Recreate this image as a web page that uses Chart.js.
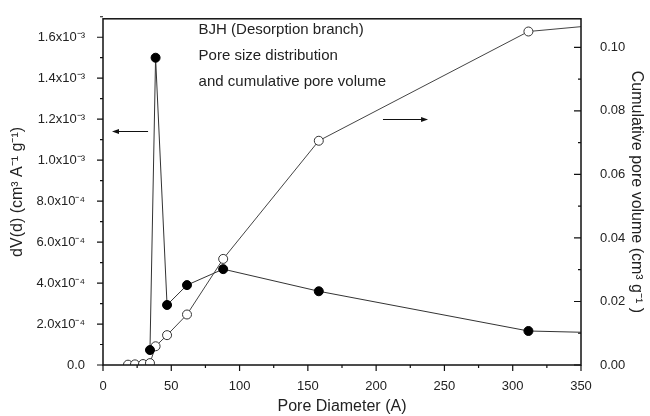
<!DOCTYPE html>
<html>
<head>
<meta charset="utf-8">
<script src="https://cdn.jsdelivr.net/npm/chart.js@4/dist/chart.umd.min.js"></script>
<style>
  html, body { margin: 0; padding: 0; background: #fff; }
  #wrap { width: 650px; height: 416px; }
</style>
</head>
<body>
<div id="wrap"><canvas id="myChart"></canvas></div>
<script>
// pore diameter (A)
const diameters = [18.3, 23.4, 29.3, 34.4, 38.5, 46.9, 61.5, 88, 158, 311.5, 400];
// dV(d), cm3 A-1 g-1 (filled circles, left axis)
const poreDist = [null, null, null, 7.3e-5, 1.5e-3, 2.93e-4, 3.9e-4, 4.68e-4, 3.6e-4, 1.66e-4, 1.52e-4];
// cumulative pore volume, cm3 g-1 (open circles, right axis)
const cumVolume = [0.0001, 0.0002, 0.0003, 0.0006, 0.0059, 0.0094, 0.0159, 0.0334, 0.0706, 0.105, 0.1085];

const xTickLabels = ["0", "50", "100", "150", "200", "250", "300", "350"];
const leftTickLabels = ["0.0", "2.0x10\u207B\u2074", "4.0x10\u207B\u2074", "6.0x10\u207B\u2074", "8.0x10\u207B\u2074",
  "1.0x10\u207B\u00B3", "1.2x10\u207B\u00B3", "1.4x10\u207B\u00B3", "1.6x10\u207B\u00B3"];
const rightTickLabels = ["0.00", "0.02", "0.04", "0.06", "0.08", "0.10"];

const noteLines = ["BJH (Desorption branch)", "Pore size distribution", "and cumulative pore volume"];
const noteAt = [70, 1.638e-3];            // x in A, y on left axis
const leftArrow = [[33, 6.6], 1.14e-3];    // x from/to, y on left axis
const rightArrow = [[205, 238], 0.0775];    // x from/to, y on right axis

const INK = "#222";
const FONT = "'Liberation Sans', Arial, sans-serif";

function pick(labels, step) {
  return function (val) {
    const k = val / step;
    const i = Math.round(k);
    if (Math.abs(k - i) > 1e-6 || i < 0 || i >= labels.length) return "";
    return labels[i];
  };
}

// frame, minor/major ticks, arrows and the text note
const decor = {
  id: "decor",
  afterDraw(chart) {
    const ctx = chart.ctx;
    const a = chart.chartArea;
    const sx = chart.scales.x, sy = chart.scales.y, sy2 = chart.scales.y2;
    ctx.save();
    ctx.strokeStyle = "#111";
    ctx.lineWidth = 1.5;
    ctx.strokeRect(a.left, a.top, a.right - a.left, a.bottom - a.top);

    ctx.lineWidth = 1.2;
    ctx.beginPath();
    for (let v = 0; v <= 350.001; v += 25) {
      const px = sx.getPixelForValue(v);
      const len = Math.round(v / 25) % 2 === 0 ? 6 : 3;
      ctx.moveTo(px, a.bottom); ctx.lineTo(px, a.bottom + len);
    }
    for (let k = 0; k <= 17; k++) {
      const py = sy.getPixelForValue(k * 1e-4);
      const len = k % 2 === 0 ? 6 : 3;
      ctx.moveTo(a.left, py); ctx.lineTo(a.left - len, py);
    }
    for (let k = 0; k <= 10; k++) {
      const py = sy2.getPixelForValue(k * 0.01);
      const len = k % 2 === 0 ? 7 : 3;
      ctx.moveTo(a.right, py); ctx.lineTo(a.right - len, py);
    }
    ctx.stroke();

    // arrows
    ctx.strokeStyle = "#111";
    ctx.fillStyle = "#111";
    ctx.lineWidth = 1;
    [[leftArrow, sy], [rightArrow, sy2]].forEach(function (pair) {
      const arr = pair[0], sc = pair[1];
      const x0 = sx.getPixelForValue(arr[0][0]);
      const x1 = sx.getPixelForValue(arr[0][1]);
      const y = Math.round(sc.getPixelForValue(arr[1])) + 0.5;
      const dir = Math.sign(x1 - x0);
      ctx.beginPath();
      ctx.moveTo(x0, y); ctx.lineTo(x1 - dir * 5, y);
      ctx.stroke();
      ctx.beginPath();
      ctx.moveTo(x1, y); ctx.lineTo(x1 - dir * 7, y - 2.5); ctx.lineTo(x1 - dir * 7, y + 2.5);
      ctx.closePath();
      ctx.fill();
    });

    // note
    ctx.fillStyle = INK;
    ctx.font = "15px " + FONT;
    ctx.textBaseline = "middle";
    ctx.textAlign = "left";
    const nx = sx.getPixelForValue(noteAt[0]);
    const ny = sy.getPixelForValue(noteAt[1]);
    noteLines.forEach(function (t, i) { ctx.fillText(t, nx, ny + i * 26); });
    ctx.restore();
  }
};

const data = {
  labels: diameters,
  datasets: [
    {
      label: "dV(d)",
      data: poreDist,
      yAxisID: "y",
      borderColor: "#333",
      borderWidth: 1,
      backgroundColor: "#000",
      pointBackgroundColor: "#000",
      pointBorderColor: "#000",
      pointRadius: 4.5,
      spanGaps: false,
    },
    {
      label: "Cumulative pore volume",
      data: cumVolume,
      yAxisID: "y2",
      borderColor: "#444",
      borderWidth: 1,
      backgroundColor: "#fff",
      pointBackgroundColor: "#fff",
      pointBorderColor: "#333",
      pointBorderWidth: 1,
      pointRadius: 4.5,
    },
  ],
};

const config = {
  type: "line",
  data,
  options: {
    responsive: true,
    maintainAspectRatio: false,
    animation: false,
    layout: { padding: { top: 10, left: 0, right: 0, bottom: 0 } },
    elements: { line: { tension: 0 } },
    scales: {
      x: {
        type: "linear",
        min: 0,
        max: 350,
        grid: { display: false },
        border: { display: false },
        ticks: {
          stepSize: 50,
          autoSkip: false,
          maxRotation: 0,
          padding: 6,
          color: INK,
          font: { size: 13, family: FONT },
          callback: pick(xTickLabels, 50),
        },
        title: {
          display: true,
          text: "Pore Diameter (A)",
          color: INK,
          font: { size: 16, family: FONT },
          padding: { top: 2, bottom: 0 },
        },
        afterFit(s) { s.height = 51; },
      },
      y: {
        position: "left",
        min: 0,
        max: 1.69e-3,
        grid: { display: false },
        border: { display: false },
        ticks: {
          stepSize: 2e-4,
          autoSkip: false,
          padding: 10,
          color: INK,
          font: { size: 13, family: FONT },
          callback: pick(leftTickLabels, 2e-4),
        },
        title: {
          display: true,
          text: "dV(d) (cm\u00B3 A\u207B\u00B9 g\u207B\u00B9)",
          color: INK,
          font: { size: 16, family: FONT },
          padding: { top: 8, bottom: 0 },
        },
        afterFit(s) { s.width = 103; },
      },
      y2: {
        position: "right",
        min: 0,
        max: 0.109,
        grid: { display: false },
        border: { display: false },
        ticks: {
          stepSize: 0.02,
          autoSkip: false,
          padding: 11,
          color: INK,
          font: { size: 13, family: FONT },
          callback: pick(rightTickLabels, 0.02),
        },
        title: {
          display: true,
          text: "Cumulative pore volume (cm\u00B3 g\u207B\u00B9 )",
          color: INK,
          font: { size: 16, family: FONT },
          padding: { top: 4, bottom: 0 },
        },
        afterFit(s) { s.width = 69; },
      },
    },
    plugins: {
      legend: { display: false },
      tooltip: { enabled: false },
    },
  },
  plugins: [decor],
};

new Chart(document.getElementById("myChart"), config);
</script>
</body>
</html>
